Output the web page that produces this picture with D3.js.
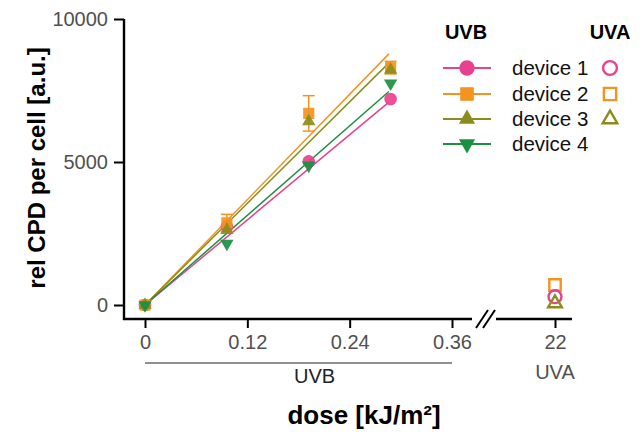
<!DOCTYPE html>
<html><head><meta charset="utf-8">
<script src="https://cdn.jsdelivr.net/npm/d3@7"></script>
<style>body{margin:0;background:#fff}svg{display:block;font-family:Arial,"Liberation Sans",sans-serif}</style>
</head><body><svg id="c" width="643" height="432"></svg>
<script>
const devices = ["device 1","device 2","device 3","device 4"];
const colors = ["#e8428e","#f39420","#8c8c1c","#1a9040"];
const shapes = ["circle","square","triangle","triangleDown"];
const uvbDoses = [0, 0.096, 0.192, 0.288];
const uvbValues = [
  [0, 2750, 5020, 7200],
  [0, 2870, 6700, 8300],
  [0, 2620, 6420, 8220],
  [0, 2150, 4880, 7750]
];
const uvbErrors = [
  [0, 0, 0, 0],
  [0, 300, 620, 220],
  [0, 0, 0, 0],
  [0, 0, 0, 0]
];
const fitSlopes = [24800, 30700, 29600, 26100];
const fitEnd = 0.286;
const uvaDose = 22;
const uvaValues = [290, 700, 60];
const xTicks = [0, 0.12, 0.24, 0.36];
const yTicks = [0, 5000, 10000];

const svg = d3.select("#c");
const x = d3.scaleLinear().domain([0, 0.36]).range([145, 452]);
const y = d3.scaleLinear().domain([0, 10000]).range([305, 19]);
const xB = d3.scaleLinear().domain([0, 22]).range([0, 555]);
const axisY = 319;
const sizeScale = {circle:1, square:1, triangle:0.62, triangleDown:0.62};

function sym(s, size){
  const t = {circle:d3.symbolCircle, square:d3.symbolSquare, triangle:d3.symbolTriangle, triangleDown:d3.symbolTriangle}[s];
  return d3.symbol().type(t).size(size*sizeScale[s])();
}
function marker(g, s, cx, cy, size, color, filled, op){
  g.append("path").attr("d", sym(s, size))
   .attr("transform", `translate(${cx},${cy})` + (s==="triangleDown" ? " rotate(180)" : ""))
   .attr("fill", filled ? color : "none")
   .attr("fill-opacity", op || 1)
   .attr("stroke", filled ? "none" : color)
   .attr("stroke-width", filled ? 0 : 2.4);
}

// y axis
const yAx = svg.append("g").attr("transform","translate(124,0)")
  .call(d3.axisLeft(y).tickValues(yTicks).tickFormat(d3.format("d")).tickSize(10).tickSizeOuter(0).tickPadding(6));
yAx.select(".domain").remove();
yAx.selectAll(".tick line").attr("stroke","#000").attr("stroke-width",2);
yAx.selectAll(".tick text").attr("font-size",20).attr("fill","#505050").attr("font-family","Arial, Liberation Sans, sans-serif");
svg.append("line").attr("x1",124).attr("x2",124).attr("y1",y(10000)).attr("y2",axisY+1).attr("stroke","#000").attr("stroke-width",2.4);
// x axis
const xAx = svg.append("g").attr("transform",`translate(0,${axisY})`)
  .call(d3.axisBottom(x).tickValues(xTicks).tickFormat(d=>d===0?"0":d3.format(".2f")(d)).tickSize(9).tickSizeOuter(0).tickPadding(7));
xAx.select(".domain").remove();
xAx.selectAll(".tick line").attr("stroke","#000").attr("stroke-width",2);
xAx.selectAll(".tick text").attr("font-size",20).attr("fill","#505050").attr("font-family","Arial, Liberation Sans, sans-serif");
svg.append("line").attr("x1",123).attr("x2",472).attr("y1",axisY).attr("y2",axisY).attr("stroke","#000").attr("stroke-width",2.4);
svg.append("line").attr("x1",496).attr("x2",572).attr("y1",axisY).attr("y2",axisY).attr("stroke","#000").attr("stroke-width",2.4);
// break marks
[0,7].forEach(o=>{
  svg.append("line").attr("x1",476+o).attr("y1",axisY+9).attr("x2",488+o).attr("y2",axisY-9).attr("stroke","#000").attr("stroke-width",2);
});
// UVA tick
const xU = svg.append("g").attr("transform",`translate(0,${axisY})`)
  .call(d3.axisBottom(xB).tickValues([uvaDose]).tickSize(9).tickSizeOuter(0).tickPadding(7));
xU.select(".domain").remove();
xU.selectAll(".tick line").attr("stroke","#000").attr("stroke-width",2);
xU.selectAll(".tick text").attr("font-size",20).attr("fill","#505050").attr("font-family","Arial, Liberation Sans, sans-serif");

// UVB bracket
svg.append("line").attr("x1",x(0)).attr("x2",x(0.36)).attr("y1",363).attr("y2",363).attr("stroke","#222").attr("stroke-width",1.2);
svg.append("text").attr("x",(x(0)+x(0.36))/2+16).attr("y",383).attr("text-anchor","middle").attr("font-size",20).attr("fill","#222").text("UVB");
svg.append("text").attr("x",xB(uvaDose)).attr("y",379).attr("text-anchor","middle").attr("font-size",20).attr("fill","#505050").text("UVA");

// axis titles
svg.append("text").attr("x",364).attr("y",424).attr("text-anchor","middle").attr("font-size",26).attr("font-weight","bold").text("dose [kJ/m²]");
svg.append("text").attr("transform","translate(45,168) rotate(-90)").attr("text-anchor","middle").attr("font-size",24).attr("font-weight","bold").text("rel CPD per cell [a.u.]");

// fit lines
const plot = svg.append("g");
fitSlopes.forEach((s,i)=>{
  plot.append("line").attr("x1",x(0)).attr("y1",y(0)).attr("x2",x(fitEnd)).attr("y2",y(s*fitEnd))
    .attr("stroke",colors[i]).attr("stroke-width",1.5);
});
// error bars
uvbValues.forEach((vals,i)=>{
  vals.forEach((v,j)=>{
    const e = uvbErrors[i][j];
    if(e>0){
      const cx = x(uvbDoses[j]);
      plot.append("line").attr("x1",cx).attr("x2",cx).attr("y1",y(v-e)).attr("y2",y(v+e)).attr("stroke",colors[i]).attr("stroke-width",1.5);
      [v-e,v+e].forEach(w=>plot.append("line").attr("x1",cx-6).attr("x2",cx+6).attr("y1",y(w)).attr("y2",y(w)).attr("stroke",colors[i]).attr("stroke-width",1.5));
    }
  });
});
// points
[0,1,2,3].forEach(i=>{
  uvbValues[i].forEach((v,j)=>marker(plot, shapes[i], x(uvbDoses[j]), y(v), 125, colors[i], true, 0.92));
});
// UVA points
[1,0,2].forEach(i=>marker(plot, shapes[i], xB(uvaDose), y(uvaValues[i]), 130, colors[i], false));

// legend
const lg = svg.append("g");
lg.append("text").attr("x",466).attr("y",39).attr("text-anchor","middle").attr("font-size",20).attr("font-weight","bold").text("UVB");
lg.append("text").attr("x",610).attr("y",39).attr("text-anchor","middle").attr("font-size",20).attr("font-weight","bold").text("UVA");
const rowY = [68, 94, 119, 144];
devices.forEach((d,i)=>{
  lg.append("line").attr("x1",443).attr("x2",491).attr("y1",rowY[i]).attr("y2",rowY[i]).attr("stroke",colors[i]).attr("stroke-width",1.8);
  marker(lg, shapes[i], 467, rowY[i], 185, colors[i], true);
  lg.append("text").attr("x",512).attr("y",rowY[i]+7).attr("font-size",20.5).attr("fill","#111").text(d);
  if(i<3) marker(lg, shapes[i], 610, rowY[i], 150, colors[i], false);
});
</script></body></html>
